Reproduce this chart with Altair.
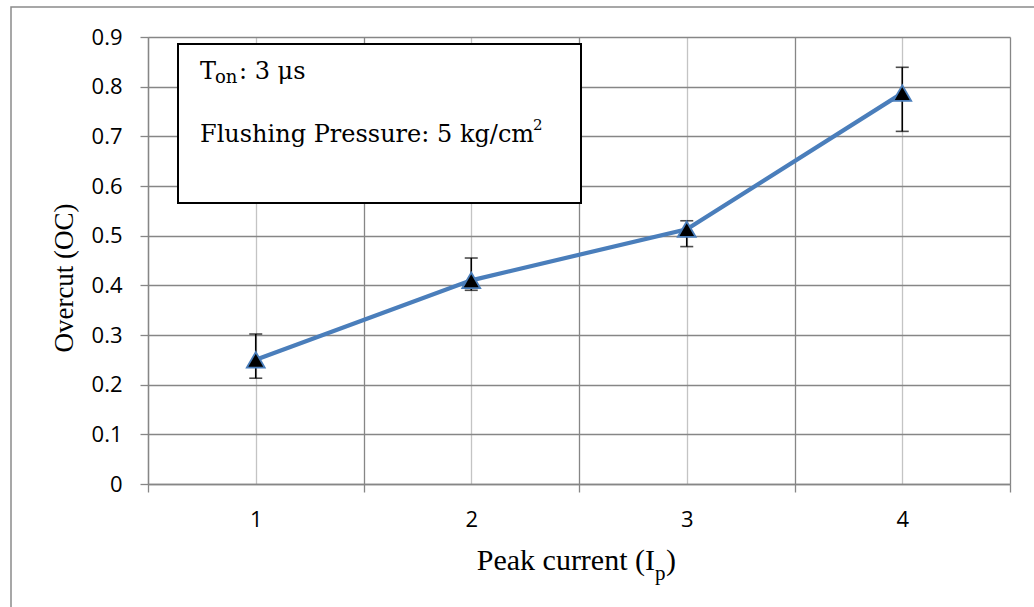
import altair as alt
import pandas as pd

# ---- data ----
peak_current = [1, 2, 3, 4]
overcut = [0.25, 0.41, 0.513, 0.787]
err_high = [0.302, 0.455, 0.530, 0.839]
err_low = [0.213, 0.390, 0.478, 0.710]

x_ticks = [0.5, 1, 1.5, 2, 2.5, 3, 3.5, 4, 4.5]
y_ticks = [0, 0.1, 0.2, 0.3, 0.4, 0.5, 0.6, 0.7, 0.8, 0.9]

y_title = ["Overcut (OC)"]
x_title_main = ["Peak current (I"]
x_title_sub = ["p"]
x_title_end = [")"]
note_t = ["T"]
note_on = ["on"]
note_ton_rest = [": 3 μs"]
note_flush = ["Flushing Pressure: 5 kg/cm"]
note_sup = ["2"]

df = pd.DataFrame({"x": peak_current, "oc": overcut, "hi": err_high, "lo": err_low})

GRID_DARK = "#868686"
GRID_LIGHT = "#c4c4c4"
BLUE = "#4a7ebb"
SANS = "Open Sans"
SERIF = "Liberation Serif"
NOTE_FONT = "DejaVu Serif"

xenc = alt.X(
    "x:Q",
    scale=alt.Scale(domain=[0.5, 4.5], nice=False, zero=False),
    axis=alt.Axis(
        values=x_ticks,
        labelExpr="datum.value % 1 == 0 ? format(datum.value, 'd') : ''",
        title=None,
        grid=True,
        gridColor={"condition": {"test": "datum.value % 1 == 0", "value": GRID_LIGHT}, "value": GRID_DARK},
        gridWidth=1.3,
        tickOpacity={"condition": {"test": "datum.value % 1 == 0", "value": 0}, "value": 1},
        tickSize=8,
        tickColor=GRID_DARK,
        tickWidth=1.3,
        domainColor=GRID_DARK,
        domainWidth=1.3,
        labelFont=SANS,
        labelFontSize=22,
        labelColor="black",
        labelPadding=17,
        labelFlush=False,
        labelOverlap=False,
    ),
)
yenc = alt.Y(
    "oc:Q",
    scale=alt.Scale(domain=[0, 0.9], nice=False),
    axis=alt.Axis(
        values=y_ticks,
        format=".1~f",
        title=None,
        grid=True,
        gridColor=GRID_DARK,
        gridWidth=1.3,
        tickSize=8,
        tickColor=GRID_DARK,
        tickWidth=1.3,
        domainColor=GRID_DARK,
        domainWidth=1.3,
        labelFont=SANS,
        labelFontSize=22,
        labelColor="black",
        labelPadding=18,
        labelOverlap=False,
    ),
)

base = alt.Chart(df)

err_rule = base.mark_rule(color="black", strokeWidth=1.6).encode(
    x=xenc, y=alt.Y("lo:Q"), y2="hi:Q"
)
cap_hi = base.mark_tick(color="black", thickness=1.6, size=13, orient="horizontal").encode(
    x="x:Q", y="hi:Q"
)
cap_lo = base.mark_tick(color="black", thickness=1.6, size=13, orient="horizontal").encode(
    x="x:Q", y="lo:Q"
)
line = base.mark_line(color=BLUE, strokeWidth=4.2).encode(x=xenc, y=yenc)
points = base.mark_point(
    shape="triangle-up", filled=True, fill="black", stroke=BLUE, strokeWidth=1.8,
    size=320, opacity=1
).encode(x="x:Q", y="oc:Q")


def txt(vals, x, y, size, font, align="left", angle=0, baseline="alphabetic"):
    kw = dict(font=font, fontSize=size, align=align, baseline=baseline, color="black")
    if angle:
        kw["angle"] = angle
    return alt.Chart(pd.DataFrame({"t": vals})).mark_text(**kw).encode(
        text="t:N", x=alt.value(x), y=alt.value(y)
    )


one = pd.DataFrame({"k": [0]})
frame = alt.Chart(one).mark_rect(fill=None, stroke="#8a8a8a", strokeWidth=1.5).encode(
    x=alt.value(-137), x2=alt.value(1000), y=alt.value(-30), y2=alt.value(700)
)
note_box = alt.Chart(one).mark_rect(fill="white", stroke="black", strokeWidth=2).encode(
    x=alt.value(30), x2=alt.value(433), y=alt.value(7), y2=alt.value(166)
)

texts = [
    txt(y_title, -75, 241, 27, SERIF, align="center", angle=270),
    txt(x_title_main, 507, 533, 30, SERIF, align="right"),
    txt(x_title_sub, 507, 543, 21, SERIF),
    txt(x_title_end, 518, 533, 30, SERIF),
    txt(note_t, 52, 42, 24, NOTE_FONT),
    txt(note_on, 67, 46, 18, NOTE_FONT),
    txt(note_ton_rest, 91, 42, 24, NOTE_FONT),
    txt(note_flush, 52, 105, 24, NOTE_FONT),
    txt(note_sup, 385, 93, 15, NOTE_FONT),
]

chart = alt.layer(
    frame, err_rule, line, cap_hi, cap_lo, points, note_box, *texts
).properties(
    width=862,
    height=447,
    padding={"left": 148, "top": 37, "right": 24, "bottom": 123},
    autosize=alt.AutoSizeParams(type="none"),
    background="white",
).configure_view(stroke=None)

chart.save("out.html", embed_options={"renderer": "svg", "actions": False})
